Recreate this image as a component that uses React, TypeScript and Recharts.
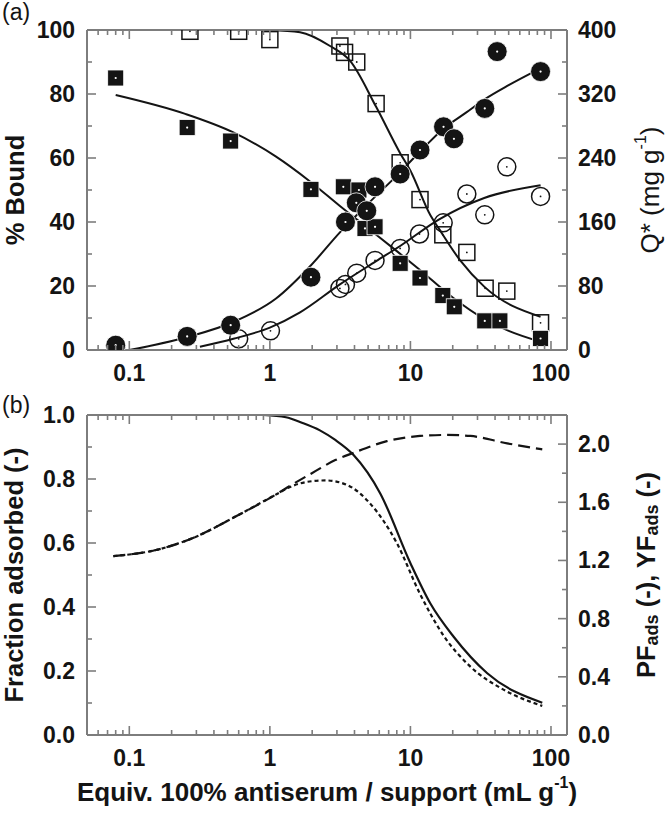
import React from 'react';
import { ComposedChart, Line, Scatter, XAxis, YAxis } from 'recharts';

// ---------- axis ticks ----------
const X_DOMAIN = [0.05, 130];
const X_TICKS = [0.06, 0.07, 0.08, 0.09, 0.1, 0.2, 0.3, 0.4, 0.5, 0.6, 0.7, 0.8, 0.9, 1, 2, 3, 4, 5, 6, 7, 8, 9, 10, 20, 30, 40, 50, 60, 70, 80, 90, 100];
const X_MAJOR = [0.1, 1, 10, 100];

const BOUND_TICKS = [0, 10, 20, 30, 40, 50, 60, 70, 80, 90, 100];
const BOUND_MAJOR = [0, 20, 40, 60, 80, 100];
const Q_TICKS = [0, 40, 80, 120, 160, 200, 240, 280, 320, 360, 400];
const Q_MAJOR = [0, 80, 160, 240, 320, 400];
const FRAC_TICKS = [0, 0.1, 0.2, 0.3, 0.4, 0.5, 0.6, 0.7, 0.8, 0.9, 1.0];
const FRAC_MAJOR = [0, 0.2, 0.4, 0.6, 0.8, 1.0];
const PF_TICKS = [0, 0.2, 0.4, 0.6, 0.8, 1.0, 1.2, 1.4, 1.6, 1.8, 2.0];
const PF_MAJOR = [0, 0.4, 0.8, 1.2, 1.6, 2.0];

// ---------- panel (a) data: [x, value] ----------
// filled squares, % Bound
const filledSquares = [
  [0.08, 85], [0.258, 69.5], [0.526, 65.3], [1.96, 50.2], [3.33, 51.0], [4.3, 50],
  [4.75, 38], [5.6, 38.5], [8.45, 27.1], [11.7, 22.5], [17, 17], [20.5, 13.5],
  [33.8, 9.1], [43.3, 9.1], [84.3, 3.6],
];
// open squares, % Bound
const openSquares = [
  [0.27, 99.6], [0.6, 99.6], [1.0, 97], [3.15, 95], [3.4, 93], [4.15, 90], [5.7, 77],
  [8.45, 58.5], [11.7, 47], [17, 36], [25.2, 30.5], [34, 19.3], [48.5, 18.4], [84.3, 8.5],
];
// filled circles, Q* (mg/g)
const filledCircles = [
  [0.08, 6], [0.258, 17], [0.526, 31], [1.96, 91], [3.45, 160], [4.12, 184], [4.89, 174],
  [5.6, 204], [8.45, 220], [11.7, 250], [17.2, 279], [20.4, 264], [33.8, 302], [41.4, 373], [84.3, 348],
];
// open circles, Q* (mg/g)
const openCircles = [
  [0.6, 14], [1.01, 24], [3.15, 77], [3.45, 82], [4.15, 96], [5.6, 112], [8.45, 127],
  [11.6, 145], [17.1, 159], [25.2, 195], [33.8, 169], [48.5, 229], [84.3, 192],
];
// model fits
const fitFilledSquares = [
  [0.08, 79.7], [0.25, 73.8], [0.55, 68], [1.1, 60.5], [1.94, 52.6], [3.15, 45], [5, 38],
  [8, 30.9], [11.7, 25], [20, 16.4], [33.5, 9.7], [50, 6], [84.3, 2.6],
];
const fitOpenSquares = [
  [1.0, 100], [1.64, 99.3], [2.68, 95], [3.7, 90.5], [5.7, 76], [8.45, 61.5], [10, 56],
  [13.9, 42], [15.9, 38], [22.6, 28], [33.5, 19.8], [84.3, 10.4],
];
const fitFilledCircles = [
  [0.1, 0], [0.256, 16], [0.55, 35], [1.1, 64], [1.94, 105], [3.15, 147], [5, 183], [8, 218],
  [12, 250], [17, 276], [25, 297], [33.5, 313], [50, 331], [84.3, 352],
];
const fitOpenCircles = [
  [0.318, 4], [0.55, 14], [1.0, 28], [1.64, 47], [3.15, 82], [5.7, 111], [8.45, 130],
  [15.9, 163], [33.5, 190], [84.3, 206],
];

// ---------- panel (b) data ----------
const fractionAdsorbed = [
  [0.9, 1.0], [1.3, 0.993], [1.69, 0.976], [2.27, 0.952], [2.92, 0.922], [3.94, 0.875], [6.1, 0.755],
  [10, 0.537], [13.9, 0.41], [20.3, 0.307], [35.2, 0.193], [86.7, 0.101],
];
const pfAds = [
  [0.077, 1.23], [0.152, 1.27], [0.293, 1.36], [0.565, 1.5], [1.09, 1.65], [1.43, 1.72], [1.99, 1.8],
  [2.92, 1.89], [3.94, 1.94], [6.8, 2.02], [11.7, 2.056], [18.2, 2.063], [26.7, 2.056], [48.8, 2.005], [86.7, 1.964],
];
const yfAds = [
  [0.077, 1.23], [0.152, 1.27], [0.293, 1.36], [0.565, 1.5], [1.09, 1.65], [1.43, 1.71], [1.99, 1.745],
  [2.5, 1.75], [3.53, 1.72], [5.18, 1.59], [8.0, 1.32], [11.7, 0.97], [17.3, 0.68], [26.7, 0.47],
  [46.3, 0.31], [86.7, 0.2],
];

const toXY = (arr: number[][]) => arr.map(([x, y]) => ({ x, y }));

// ---------- styles ----------
const AXIS = '#7d7d7d';
const INK = '#141414';
const FONT = 'Arial, "Liberation Sans", Helvetica, sans-serif';
const TICK_FS = 23;
const TITLE_FS = 25.5;
const MAJ = 9;
const MIN = 5;

const makeXTick = (top: boolean, showLabel: boolean) => (props: any) => {
  const { x, y, payload } = props;
  const v = payload.value;
  const major = X_MAJOR.includes(v);
  const len = major ? MAJ : MIN;
  return (
    <g>
      <line x1={x} x2={x} y1={y} y2={top ? y + len : y - len} stroke={AXIS} strokeWidth={1.6} />
      {showLabel && major && (
        <text x={x} y={y + 23} textAnchor="middle" dominantBaseline="central" fontFamily={FONT}
          fontWeight="bold" fontSize={TICK_FS} fill={INK}>{String(v)}</text>
      )}
    </g>
  );
};

const makeYTick = (right: boolean, majors: number[], fmt: (v: number) => string) => (props: any) => {
  const { x, y, payload } = props;
  const v = payload.value;
  const major = majors.includes(v);
  const len = major ? MAJ : MIN;
  return (
    <g>
      <line x1={x} x2={right ? x - len : x + len} y1={y} y2={y} stroke={AXIS} strokeWidth={1.6} />
      {major && (
        <text x={right ? x + 11 : x - 12} y={y} textAnchor={right ? 'start' : 'end'} dominantBaseline="central"
          fontFamily={FONT} fontWeight="bold" fontSize={TICK_FS} fill={INK}>{fmt(v)}</text>
      )}
    </g>
  );
};

const intFmt = (v: number) => String(v);
const oneDec = (v: number) => v.toFixed(1);

// ---------- titles ----------
const VText = ({ cx, cy, bold, size, children }: any) => (
  <text x={cx} y={cy} transform={`rotate(-90 ${cx} ${cy})`} textAnchor="middle" dominantBaseline="central"
    fontFamily={FONT} fontWeight={bold ? 'bold' : 'normal'} fontSize={size} fill={INK}>{children}</text>
);

const BoundTitle = (p: any) => (
  <VText cx={15} cy={p.viewBox.y + p.viewBox.height / 2} bold size={TITLE_FS}>% Bound</VText>
);
const QTitle = (p: any) => (
  <VText cx={650} cy={p.viewBox.y + p.viewBox.height / 2} size={26}>
    <tspan>Q* (mg g</tspan>
    <tspan dy={-10} fontSize={16}>-1</tspan>
    <tspan dy={10}>)</tspan>
  </VText>
);
const FracTitle = (p: any) => (
  <VText cx={14} cy={p.viewBox.y + p.viewBox.height / 2} bold size={TITLE_FS}>Fraction adsorbed (-)</VText>
);
const PFTitle = (p: any) => (
  <VText cx={646} cy={p.viewBox.y + p.viewBox.height / 2} bold size={TITLE_FS}>
    <tspan>PF</tspan>
    <tspan dy={6} fontSize={18}>ads</tspan>
    <tspan dy={-6}> (-), YF</tspan>
    <tspan dy={6} fontSize={18}>ads</tspan>
    <tspan dy={-6}> (-)</tspan>
  </VText>
);
const XTitle = (p: any) => (
  <text x={p.viewBox.x + p.viewBox.width / 2} y={p.viewBox.y + 57} textAnchor="middle" dominantBaseline="central"
    fontFamily={FONT} fontWeight="bold" fontSize={26} fill={INK}>
    <tspan>Equiv. 100% antiserum / support (mL g</tspan>
    <tspan dy={-10} fontSize={16}>-1</tspan>
    <tspan dy={10}>)</tspan>
  </text>
);
const PanelTag = ({ viewBox, tag, dy }: any) => (
  <text x={2} y={viewBox.y + dy} dominantBaseline="central" fontFamily={FONT} fontSize={23} fill={INK}>{tag}</text>
);

// ---------- markers ----------
const FilledSquare = (p: any) => {
  const { cx, cy } = p;
  if (cx == null || cy == null) return null;
  return (
    <g>
      <rect x={cx - 8} y={cy - 8} width={16} height={16} fill={INK} stroke="#fff" strokeWidth={0.8} />
      <circle cx={cx} cy={cy} r={1.1} fill="#fff" />
    </g>
  );
};
const OpenSquare = (p: any) => {
  const { cx, cy } = p;
  if (cx == null || cy == null) return null;
  return (
    <g>
      <rect x={cx - 8} y={cy - 8} width={16} height={16} fill="none" stroke={INK} strokeWidth={1.5} />
      <circle cx={cx} cy={cy} r={0.9} fill={INK} />
    </g>
  );
};
const FilledCircle = (p: any) => {
  const { cx, cy } = p;
  if (cx == null || cy == null) return null;
  return (
    <g>
      <circle cx={cx} cy={cy} r={10} fill={INK} stroke="#fff" strokeWidth={0.8} />
      <circle cx={cx} cy={cy} r={1.1} fill="#fff" />
    </g>
  );
};
const OpenCircle = (p: any) => {
  const { cx, cy } = p;
  if (cx == null || cy == null) return null;
  return (
    <g>
      <circle cx={cx} cy={cy} r={9} fill="none" stroke={INK} strokeWidth={1.5} />
      <circle cx={cx} cy={cy} r={0.9} fill={INK} />
    </g>
  );
};

const axisLine = { stroke: AXIS, strokeWidth: 2 };

function PanelA() {
  return (
    <ComposedChart width={669} height={400} margin={{ top: 0, right: 0, bottom: 0, left: 0 }}>
      <XAxis xAxisId="b" dataKey="x" type="number" scale="log" domain={X_DOMAIN} allowDataOverflow
        ticks={X_TICKS} interval={0} tickSize={0} tickMargin={0} height={50} orientation="bottom"
        tickLine={false} axisLine={axisLine} tick={makeXTick(false, true)} />
      <XAxis xAxisId="t" dataKey="x" type="number" scale="log" domain={X_DOMAIN} allowDataOverflow
        ticks={X_TICKS} interval={0} tickSize={0} tickMargin={0} height={30} orientation="top"
        tickLine={false} axisLine={axisLine} tick={makeXTick(true, false)}
        label={<PanelTag tag="(a)" dy={12} />} />
      <YAxis yAxisId="l" dataKey="y" type="number" domain={[0, 100]} allowDataOverflow ticks={BOUND_TICKS}
        interval={0} tickSize={0} tickMargin={0} width={87} orientation="left" tickLine={false}
        axisLine={axisLine} tick={makeYTick(false, BOUND_MAJOR, intFmt)} label={<BoundTitle />} />
      <YAxis yAxisId="r" dataKey="y" type="number" domain={[0, 400]} allowDataOverflow ticks={Q_TICKS}
        interval={0} tickSize={0} tickMargin={0} width={102} orientation="right" tickLine={false}
        axisLine={axisLine} tick={makeYTick(true, Q_MAJOR, intFmt)} label={<QTitle />} />

      <Line xAxisId="b" yAxisId="l" data={toXY(fitFilledSquares)} dataKey="y" type="monotone" stroke={INK}
        strokeWidth={2} dot={false} activeDot={false} isAnimationActive={false} />
      <Line xAxisId="b" yAxisId="l" data={toXY(fitOpenSquares)} dataKey="y" type="monotone" stroke={INK}
        strokeWidth={2} dot={false} activeDot={false} isAnimationActive={false} />
      <Line xAxisId="b" yAxisId="r" data={toXY(fitFilledCircles)} dataKey="y" type="monotone" stroke={INK}
        strokeWidth={2} dot={false} activeDot={false} isAnimationActive={false} />
      <Line xAxisId="b" yAxisId="r" data={toXY(fitOpenCircles)} dataKey="y" type="monotone" stroke={INK}
        strokeWidth={2} dot={false} activeDot={false} isAnimationActive={false} />

      <Scatter xAxisId="b" yAxisId="l" data={toXY(openSquares)} shape={OpenSquare} isAnimationActive={false} />
      <Scatter xAxisId="b" yAxisId="r" data={toXY(openCircles)} shape={OpenCircle} isAnimationActive={false} />
      <Scatter xAxisId="b" yAxisId="l" data={toXY(filledSquares)} shape={FilledSquare} isAnimationActive={false} />
      <Scatter xAxisId="b" yAxisId="r" data={toXY(filledCircles)} shape={FilledCircle} isAnimationActive={false} />
    </ComposedChart>
  );
}

function PanelB() {
  return (
    <ComposedChart width={669} height={444} margin={{ top: 0, right: 0, bottom: 0, left: 0 }}>
      <XAxis xAxisId="b" dataKey="x" type="number" scale="log" domain={X_DOMAIN} allowDataOverflow
        ticks={X_TICKS} interval={0} tickSize={0} tickMargin={0} height={89} orientation="bottom"
        tickLine={false} axisLine={axisLine} tick={makeXTick(false, true)} label={<XTitle />} />
      <XAxis xAxisId="t" dataKey="x" type="number" scale="log" domain={X_DOMAIN} allowDataOverflow
        ticks={X_TICKS} interval={0} tickSize={0} tickMargin={0} height={35} orientation="top"
        tickLine={false} axisLine={axisLine} tick={makeXTick(true, false)}
        label={<PanelTag tag="(b)" dy={25} />} />
      <YAxis yAxisId="l" dataKey="y" type="number" domain={[0, 1]} allowDataOverflow ticks={FRAC_TICKS}
        interval={0} tickSize={0} tickMargin={0} width={87} orientation="left" tickLine={false}
        axisLine={axisLine} tick={makeYTick(false, FRAC_MAJOR, oneDec)} label={<FracTitle />} />
      <YAxis yAxisId="r" dataKey="y" type="number" domain={[0, 2.2]} allowDataOverflow ticks={PF_TICKS}
        interval={0} tickSize={0} tickMargin={0} width={102} orientation="right" tickLine={false}
        axisLine={axisLine} tick={makeYTick(true, PF_MAJOR, oneDec)} label={<PFTitle />} />

      <Line xAxisId="b" yAxisId="r" data={toXY(pfAds)} dataKey="y" type="monotone" stroke={INK}
        strokeWidth={2.2} strokeDasharray="12 6" dot={false} activeDot={false} isAnimationActive={false} />
      <Line xAxisId="b" yAxisId="r" data={toXY(yfAds)} dataKey="y" type="monotone" stroke={INK}
        strokeWidth={2.2} strokeDasharray="4 3" dot={false} activeDot={false} isAnimationActive={false} />
      <Line xAxisId="b" yAxisId="l" data={toXY(fractionAdsorbed)} dataKey="y" type="monotone" stroke={INK}
        strokeWidth={2.2} dot={false} activeDot={false} isAnimationActive={false} />
    </ComposedChart>
  );
}

export default function App() {
  return (
    <div style={{ position: 'absolute', left: 0, top: 0, width: 669, height: 824, background: '#fff' }}>
      <div style={{ position: 'absolute', left: 0, top: 0 }}>
        <PanelA />
      </div>
      <div style={{ position: 'absolute', left: 0, top: 380 }}>
        <PanelB />
      </div>
    </div>
  );
}
